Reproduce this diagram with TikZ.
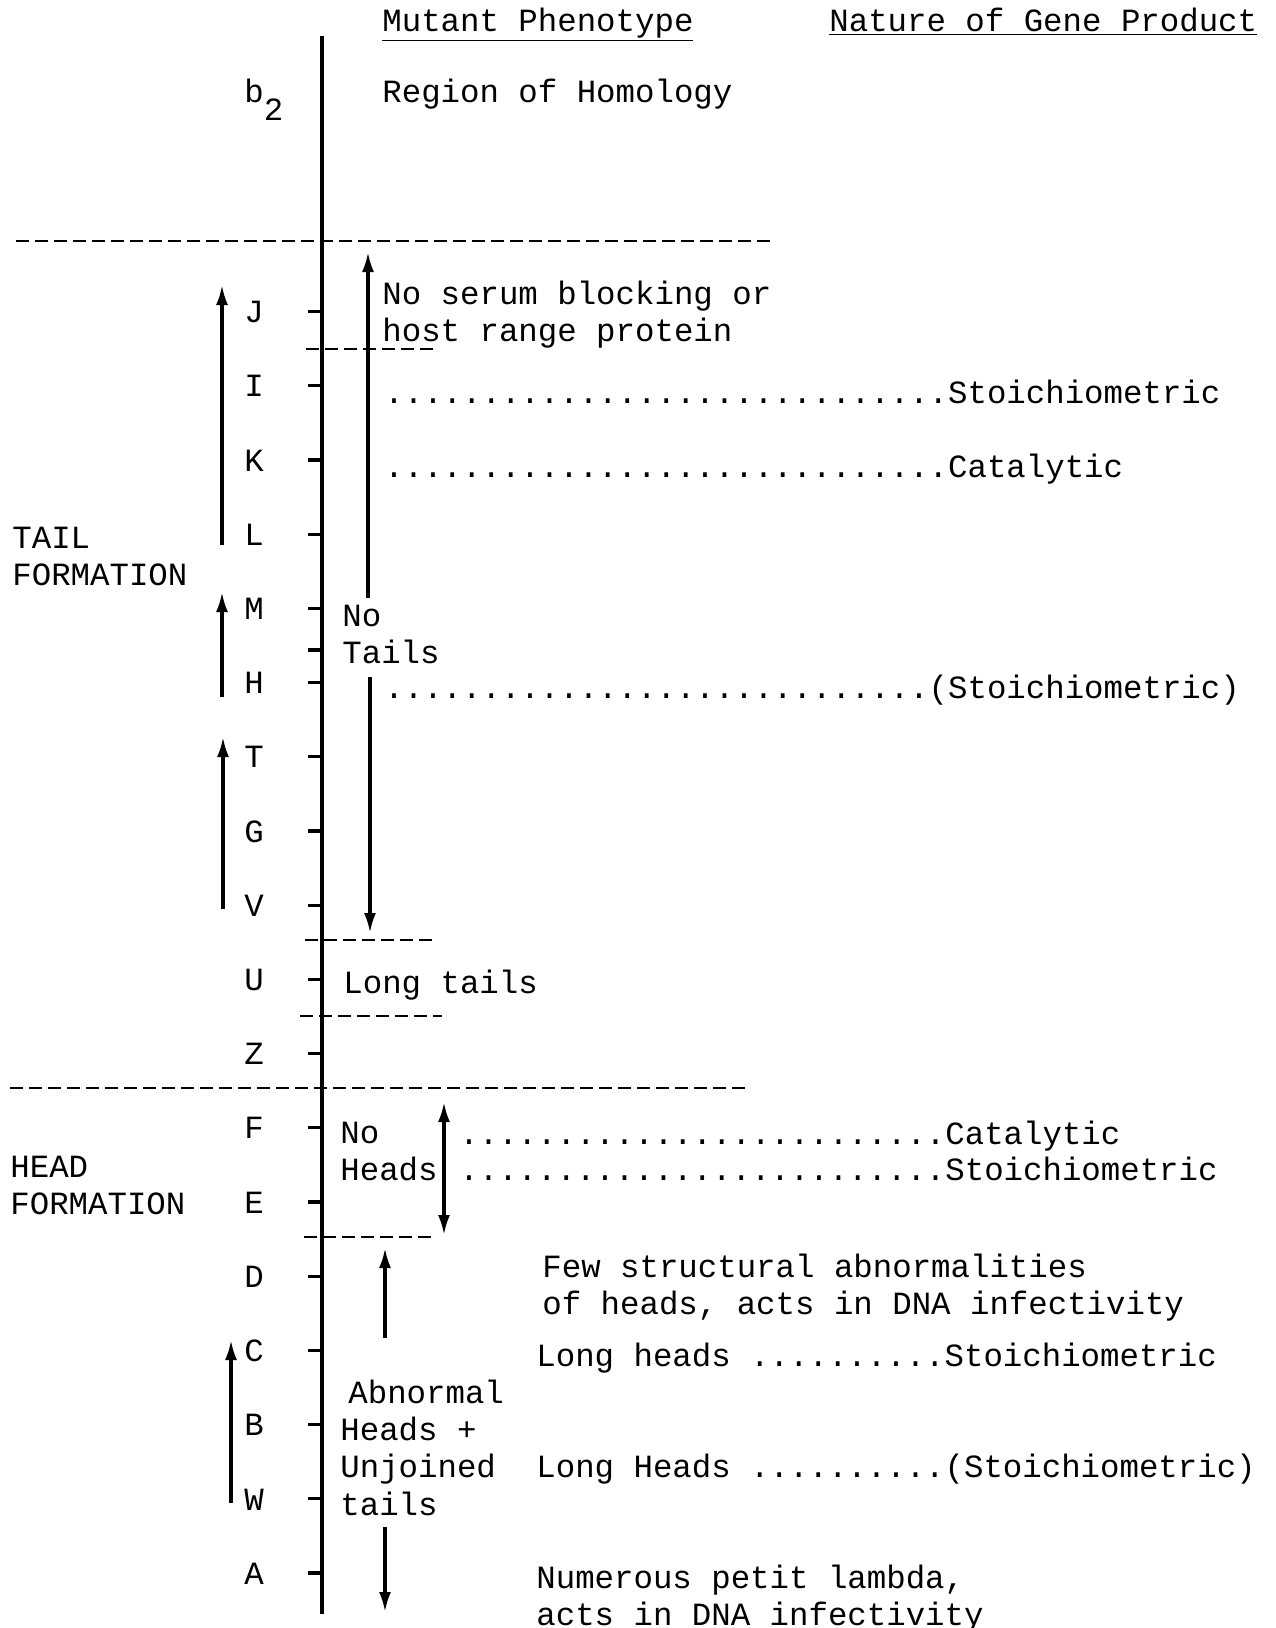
\documentclass[tikz,border=0pt]{standalone}
\usepackage{fontspec}
\setmainfont{Liberation Mono}
\usetikzlibrary{arrows.meta,positioning}
\newcommand\typefont{\fontsize{16.2}{18.7}\selectfont}
\newcommand\dotrun[1]{\foreach\k in {1,...,#1}{.}}
\tikzstyle{txt}=[font=\typefont,inner sep=0pt,anchor=mid west,yshift=-3pt]
\tikzstyle{block}=[font=\typefont,inner sep=0pt,anchor=west,align=left,yshift=-0.8pt]
\tikzstyle{gene}=[font=\typefont,inner sep=0pt,anchor=mid,yshift=-3pt]
\tikzstyle{axisline}=[line width=1.9pt]
\tikzstyle{tickmark}=[line width=1.6pt]
\tikzstyle{region}=[line width=1.2pt,dash pattern=on 6.5pt off 3pt]
\tikzstyle{span}=[line width=1.6pt,-{Latex[length=10pt,width=6pt]}]
\tikzstyle{bispan}=[line width=1.6pt,{Latex[length=10pt,width=6pt]}-{Latex[length=10pt,width=6pt]}]
\begin{document}
\begin{tikzpicture}[x=0.5pt,y=-0.5pt]
  \useasboundingbox (0,0) rectangle (1275,1628);
  % headings
  \node[txt] (MutantHead) at (382,20) {\underline{Mutant Phenotype}};
  \node[txt] (NatureHead) at (829,20) {\underline{Nature of Gene Product}};
  % genetic map axis
  \coordinate (AxisTop) at (322,36);
  \coordinate (AxisBottom) at (322,1614);
  \draw[axisline] (AxisTop) -- (AxisBottom);
  \node[txt] (b2) at (244,91) {b\raisebox{-9pt}{2}};
  \node[txt] (Homology) at (382,91) {Region of Homology};
  \foreach \g [count=\i from 0] in {J,I,K,L,M,H,T,G,V,U,Z,F,E,D,C,B,W,A} {
    \node[gene] (g-\g) at (254,{311.5+74.2*\i}) {\g};
    \coordinate (t-\g) at (322,{311.5+74.2*\i});
    \draw[tickmark] (t-\g) -- ++(-14,0);
  }
  \coordinate (t-MH) at (322,650);
  \draw[tickmark] (t-MH) -- ++(-14,0);
  % region boundaries
  \coordinate (TailTopW) at (16,241);  \coordinate (TailTopE) at (774,241);
  \coordinate (HeadTopW) at (10,1088); \coordinate (HeadTopE) at (746,1088);
  \draw[region] (TailTopW) -- (TailTopE);
  \draw[region] (HeadTopW) -- (HeadTopE);
  \coordinate (JI-W) at (306,349);  \coordinate (JI-E) at (438,349);
  \coordinate (VU-W) at (305,940);  \coordinate (VU-E) at (435,940);
  \coordinate (UZ-W) at (300,1016); \coordinate (UZ-E) at (442,1016);
  \coordinate (ED-W) at (304,1237); \coordinate (ED-E) at (435,1237);
  \draw[region] (JI-W) -- (JI-E);
  \draw[region] (VU-W) -- (VU-E);
  \draw[region] (UZ-W) -- (UZ-E);
  \draw[region] (ED-W) -- (ED-E);
  % left arrows (direction of transcription)
  \coordinate (JL-bot) at (222,545);  \coordinate (JL-top) at (222,285);
  \coordinate (MH-bot) at (222,697);  \coordinate (MH-top) at (222,592);
  \coordinate (TV-bot) at (223,909);  \coordinate (TV-top) at (223,737);
  \coordinate (CW-bot) at (231,1503); \coordinate (CW-top) at (231,1340);
  \draw[span] (JL-bot) -- (JL-top);
  \draw[span] (MH-bot) -- (MH-top);
  \draw[span] (TV-bot) -- (TV-top);
  \draw[span] (CW-bot) -- (CW-top);
  % phenotype ranges
  \coordinate (NoTails-up0) at (368,598);  \coordinate (NoTails-up1) at (368,252);
  \coordinate (NoTails-dn0) at (370,677);  \coordinate (NoTails-dn1) at (370,933);
  \coordinate (NoHeads-top) at (444,1102); \coordinate (NoHeads-bot) at (444,1235);
  \coordinate (Abn-up0) at (385,1338);     \coordinate (Abn-up1) at (385,1248);
  \coordinate (Abn-dn0) at (385,1527);     \coordinate (Abn-dn1) at (385,1612);
  \draw[span] (NoTails-up0) -- (NoTails-up1);
  \draw[span] (NoTails-dn0) -- (NoTails-dn1);
  \draw[bispan] (NoHeads-top) -- (NoHeads-bot);
  \draw[span] (Abn-up0) -- (Abn-up1);
  \draw[span] (Abn-dn0) -- (Abn-dn1);
  % texts
  \node[block] (TailForm) at (12,555) {TAIL\\FORMATION};
  \node[block] (HeadForm) at (10,1184) {HEAD\\FORMATION};
  \node[block] (Serum) at (382,313) {No serum blocking or\\host range protein};
  \node[txt] (StoichI) at (384,392) {\dotrun{29}Stoichiometric};
  \node[txt] (CatalK) at (384,466) {\dotrun{29}Catalytic};
  \node[block] (NoTails) at (342,633) {No\\Tails};
  \node[txt] (StoichH) at (384,687) {\dotrun{28}(Stoichiometric)};
  \node[txt] (LongTails) at (343,982) {Long tails};
  \node[block] (NoHeads) at (340,1150) {No\\Heads};
  \node[txt] (CatalF) at (459,1133) {\dotrun{25}Catalytic};
  \node[txt] (StoichE) at (459,1169) {\dotrun{25}Stoichiometric};
  \node[block] (FewStruct) at (542,1286) {Few structural abnormalities\\of heads, acts in DNA infectivity};
  \node[txt] (LongHeadsC) at (536,1355) {Long heads \dotrun{10}Stoichiometric};
  \node[block] (Abnormal) at (340,1446) {\hspace*{4pt}Abnormal\\Heads +\\Unjoined\\tails};
  \node[txt] (LongHeadsW) at (536,1466) {Long Heads \dotrun{10}(Stoichiometric)};
  \node[block] (Petit) at (536,1597) {Numerous petit lambda,\\acts in DNA infectivity};
\end{tikzpicture}
\end{document}
